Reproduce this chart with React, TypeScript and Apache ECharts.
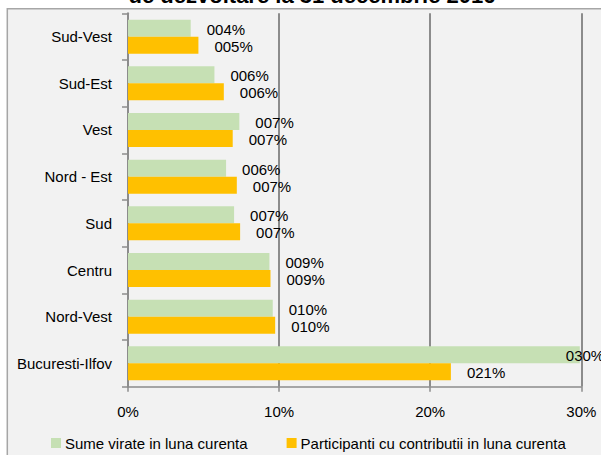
import React, { useEffect, useRef } from "react";
import * as echarts from "echarts";

const categories = ["Sud-Vest", "Sud-Est", "Vest", "Nord - Est", "Sud", "Centru", "Nord-Vest", "Bucuresti-Ilfov"];
const sumeVirate = [4.15, 5.72, 7.37, 6.49, 7.02, 9.36, 9.58, 29.9];
const participanti = [4.66, 6.34, 6.93, 7.2, 7.42, 9.43, 9.74, 21.37];
const seriesNames = ["Sume virate in luna curenta", "Participanti cu contributii in luna curenta"];
const titleText = "de dezvoltare la 31 decembrie 2016";

const FONT = "'Liberation Sans', Arial, sans-serif";
const FS = 15;

const fmt = (v: number) => "0" + String(Math.round(v)).padStart(2, "0") + "%";

export default function App() {
  const ref = useRef<HTMLDivElement>(null);
  useEffect(() => {
    if (!ref.current) return;
    const chart = echarts.init(ref.current, undefined, { renderer: "svg" });
    const labelBase = {
      show: true,
      position: "right" as const,
      distance: 16,
      offset: [0, 1],
      color: "#000",
      fontFamily: FONT,
      fontSize: FS,
      formatter: (p: any) => fmt(p.value),
    };
    chart.setOption({
      animation: false,
      backgroundColor: "#ffffff",
      textStyle: { fontFamily: FONT },
      graphic: [
        {
          type: "rect",
          z: -10,
          silent: true,
          shape: { x: 7.3, y: 8.8, width: 640, height: 500 },
          style: { fill: "#f2f2f2", stroke: "#a6a6a6", lineWidth: 1.5 },
        },
        {
          type: "text",
          z: -5,
          x: 312,
          y: -5,
          style: {
            text: titleText,
            fill: "#000",
            font: "bold 22px 'Liberation Sans', Arial, sans-serif",
            textAlign: "center",
            textVerticalAlign: "middle",
          },
        },
      ],
      grid: { left: 128, top: 13.3, right: 19.7, bottom: 68.3, containLabel: false },
      legend: {
        left: 51,
        top: 435.5,
        padding: 0,
        itemWidth: 10,
        itemHeight: 10,
        itemGap: 39,
        icon: "rect",
        textStyle: { fontFamily: FONT, fontSize: FS, color: "#000", padding: [0, 0, 0, -1] },
        data: seriesNames,
      },
      xAxis: {
        type: "value",
        min: 0,
        max: 30,
        interval: 10,
        axisLine: { show: true, lineStyle: { color: "#8c8c8c", width: 1.5 } },
        axisTick: { show: true, length: 5, lineStyle: { color: "#8c8c8c", width: 1.5 } },
        axisLabel: { formatter: "{value}%", fontFamily: FONT, fontSize: FS, color: "#000", margin: 17 },
        splitLine: { show: true, lineStyle: { color: "#8c8c8c", width: 2 } },
      },
      yAxis: {
        type: "category",
        data: categories,
        inverse: true,
        axisLine: { show: true, lineStyle: { color: "#8c8c8c", width: 2 } },
        axisTick: { show: true, length: 6, lineStyle: { color: "#8c8c8c", width: 1.5 } },
        axisLabel: { fontFamily: FONT, fontSize: FS, color: "#000", margin: 16 },
        splitLine: { show: false },
      },
      series: [
        {
          name: seriesNames[0],
          type: "bar",
          barWidth: 17,
          barGap: "0%",
          itemStyle: { color: "#c6e0b4" },
          label: labelBase,
          data: sumeVirate.map((v, i) =>
            i === categories.length - 1 ? { value: v, label: { offset: [-30, 1] } } : v
          ),
        },
        {
          name: seriesNames[1],
          type: "bar",
          barWidth: 17,
          barGap: "0%",
          itemStyle: { color: "#ffc000" },
          label: labelBase,
          data: participanti,
        },
      ],
    });
    return () => chart.dispose();
  }, []);
  return (
    <div
      ref={ref}
      style={{ position: "absolute", left: 0, top: 0, width: 601, height: 455, background: "#fff" }}
    />
  );
}
